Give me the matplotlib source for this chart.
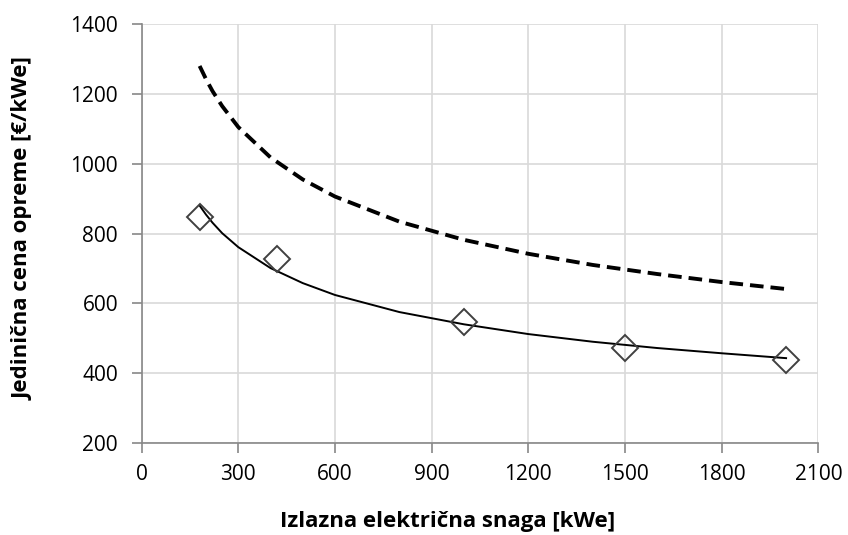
import matplotlib
matplotlib.use("Agg")
import matplotlib.pyplot as plt

# measured points
x_pts = [180, 420, 1000, 1500, 2000]
y_pts = [847, 727, 547, 473, 437]

# trend curves
x_curve = [180, 200, 220, 250, 300, 400, 500, 600, 800, 1000, 1200, 1400, 1600, 1800, 2000]
y_fit = [880, 854, 831, 801, 761, 701, 658, 624, 575, 540, 512, 490, 472, 457, 443]
y_dash = [1280, 1242, 1208, 1165, 1105, 1018, 955, 906, 834, 782, 742, 710, 684, 661, 641]

x_ticks = [0, 300, 600, 900, 1200, 1500, 1800, 2100]
y_ticks = [200, 400, 600, 800, 1000, 1200, 1400]

plt.rcParams['font.family'] = ['Open Sans', 'DejaVu Sans']

fig = plt.figure(figsize=(8.48, 5.35), dpi=100)
ax = fig.add_axes([0.167, 0.172, 0.798, 0.783])

ax.plot(x_curve, y_dash, color='black', lw=2.8, linestyle=(0, (3.5, 1.8)), zorder=3)
ax.plot(x_curve, y_fit, color='black', lw=1.4, zorder=3)
ax.plot(x_pts, y_pts, linestyle='none', marker='D', markersize=13,
        markerfacecolor='none', markeredgecolor='#404040', markeredgewidth=1.4, zorder=4)

ax.set_xlim(0, 2100)
ax.set_ylim(200, 1400)
ax.set_xticks(x_ticks)
ax.set_yticks(y_ticks)
ax.grid(True, color='#d9d9d9', lw=1.2, zorder=0)
ax.set_axisbelow(True)

for s in ['top', 'right']:
    ax.spines[s].set_visible(False)
for s in ['left', 'bottom']:
    ax.spines[s].set_color('#888888')
    ax.spines[s].set_linewidth(1.2)

ax.tick_params(axis='both', direction='out', length=7, width=1.2, color='#888888',
               labelsize=15, labelcolor='black')
ax.tick_params(axis='x', pad=8)
ax.tick_params(axis='y', pad=10)

fig.text(448 / 848, 1 - 521 / 535, 'Izlazna električna snaga [kWe]', fontsize=16,
         fontweight='bold', ha='center', va='center')
fig.text(23 / 848, 1 - 229 / 535, 'Jedinična cena opreme [€/kWe]', fontsize=16,
         fontweight='bold', ha='center', va='center', rotation=90)

fig.savefig('out.png', dpi=100)
